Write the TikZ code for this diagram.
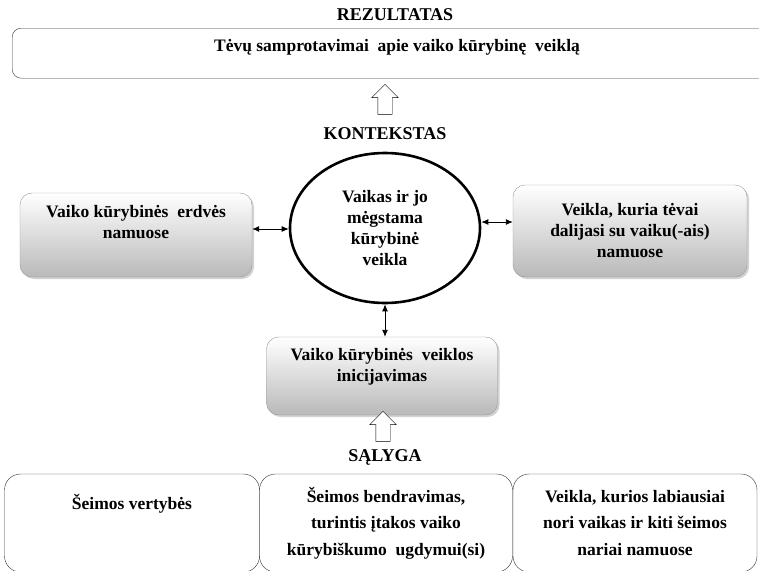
\documentclass[tikz,border=0pt]{standalone}
\usepackage{fontspec}
\setmainfont{Liberation Serif}
\usetikzlibrary{shapes.geometric,shapes.arrows,shadows,arrows.meta}

\tikzset{
  txt/.style={font=\bfseries\fontsize{17.5}{21}\selectfont, align=center},
  caption/.style={font=\bfseries\fontsize{18}{20}\selectfont},
  greybox/.style={txt, draw=gray!80, rounded corners=12pt, top color=white,
    bottom color=gray!55, inner sep=1pt,
    drop shadow={opacity=0.35, shadow xshift=2pt, shadow yshift=-2pt}},
  plainbox/.style={txt, font=\bfseries\fontsize{17.5}{26.5}\selectfont,
    draw=black!80, rounded corners=16pt, inner sep=1pt},
  hollow/.style={single arrow, draw, fill=white, rotate=90, inner sep=7pt,
    minimum height=30pt, single arrow head extend=6pt},
  link/.style={{Latex[length=7pt,width=6pt]}-{Latex[length=7pt,width=6pt]}, black, line width=0.9pt}
}

\begin{document}
\begin{tikzpicture}[x=1pt, y=-1pt]
    \clip (0,0) rectangle (759,570);
    \fill[white] (0,0) rectangle (759,570);
    % result
    \node[caption] (rez) at (395,15) {REZULTATAS};
    \node[txt, draw=black!80, rounded corners=9pt, minimum width=770pt, minimum height=50pt, anchor=north west] (top) at (12,28) {};
    \node[txt] (toptext) at (397,47) {Tėvų samprotavimai \ apie vaiko kūrybinę \ veiklą};
    \node[hollow] (up1) at (385,103) {};
    % context
    \node[caption] (kont) at (385,134) {KONTEKSTAS};
    \node[ellipse, draw, line width=2.6pt, minimum width=190pt, minimum height=150pt, txt] (ell) at (385,228)
      {Vaikas ir jo\\mėgstama\\kūrybinė\\veikla};
    \node[greybox, minimum width=232pt, minimum height=84pt] (lbox) at (136,235)
      {Vaiko kūrybinės \ erdvės\\namuose\\[6pt]};
    \node[greybox, minimum width=234pt, minimum height=92pt] (rbox) at (630,231)
      {Veikla, kuria tėvai\\dalijasi su vaiku(-ais)\\namuose};
    \node[greybox, minimum width=231pt, minimum height=78pt] (cbox) at (382,376)
      {Vaiko kūrybinės \ veiklos\\inicijavimas\\[2pt]};
    \draw[link] (lbox.east |- 0,229) -- (ell.west |- 0,229);
    \draw[link] (ell.east |- 0,222) -- (rbox.west |- 0,222);
    \draw[link] (ell.south) -- (ell.south |- cbox.north);
    \node[hollow] (up2) at (383,430) {};
    % condition
    \node[caption] (sal) at (385,457) {SĄLYGA};
    \node[plainbox, minimum width=255pt, minimum height=98pt] (b1) at (132,523) {Šeimos vertybės\\[16pt]};
    \node[plainbox, minimum width=253pt, minimum height=98pt] (b2) at (386,523)
      {Šeimos bendravimas,\\turintis įtakos vaiko\\kūrybiškumo \ ugdymui(si)};
    \node[plainbox, minimum width=244pt, minimum height=98pt] (b3) at (635,523)
      {Veikla, kurios labiausiai\\nori vaikas ir kiti šeimos\\nariai namuose};
\end{tikzpicture}
\end{document}
